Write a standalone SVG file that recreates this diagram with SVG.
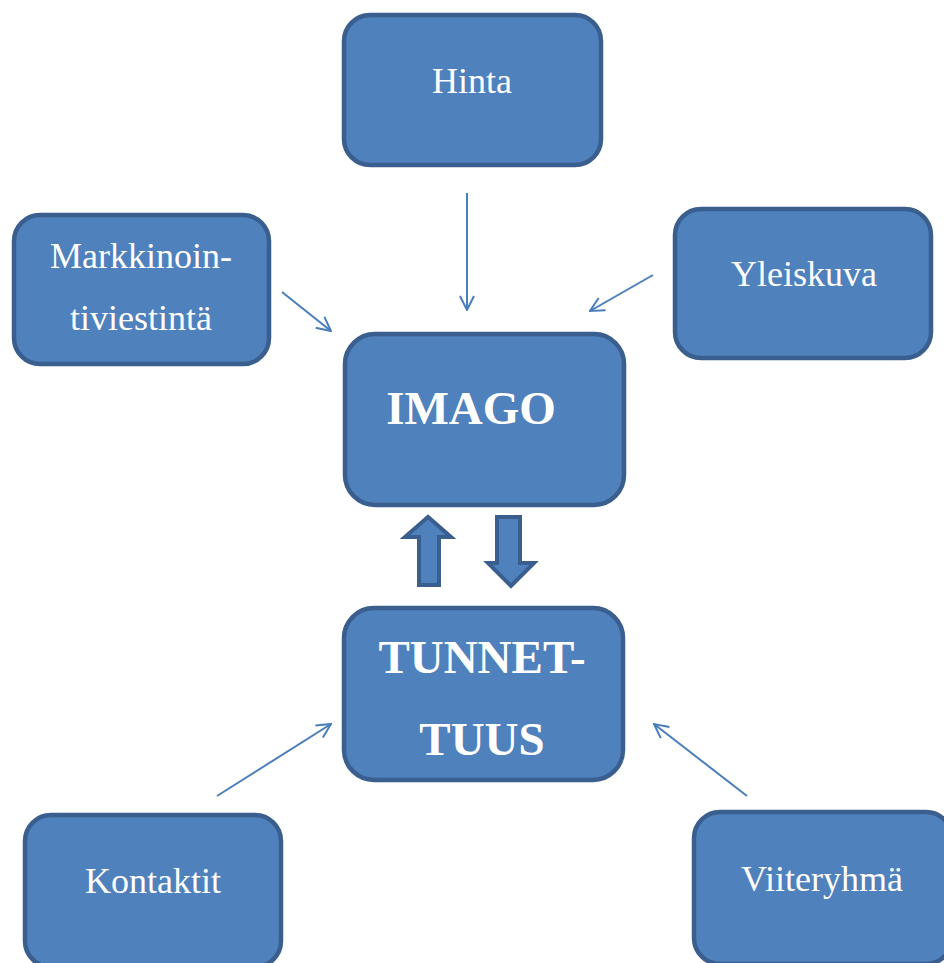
<svg xmlns="http://www.w3.org/2000/svg" width="944" height="963" viewBox="0 0 944 963">
<defs>
<style>
.box{fill:#4f81bd;stroke:#3a5f8e;stroke-width:4.5}
.t{font-family:"Liberation Serif","Times New Roman",serif;font-size:36px;fill:#ffffff;text-anchor:middle}
.b{font-family:"Liberation Serif","Times New Roman",serif;font-size:47px;font-weight:bold;fill:#ffffff;text-anchor:middle}
.c{stroke:#4a7ebb;stroke-width:2;fill:none;marker-end:url(#ah)}
.blk{fill:#4f81bd;stroke:#3a5f8e;stroke-width:4;stroke-linejoin:miter}
</style>
<marker id="ah" viewBox="0 0 16 16" refX="15" refY="8" markerWidth="16" markerHeight="16" markerUnits="userSpaceOnUse" orient="auto">
<path d="M1,1 L15,8 L1,15" fill="none" stroke="#4a7ebb" stroke-width="2"/>
</marker>
</defs>
<rect width="944" height="963" fill="#ffffff"/>
<g id="connectors">
<line class="c" x1="467" y1="193" x2="467" y2="310"/>
<line class="c" x1="282" y1="292" x2="331" y2="331"/>
<line class="c" x1="653" y1="275" x2="590" y2="311"/>
<line class="c" x1="217" y1="796" x2="331" y2="724"/>
<line class="c" x1="747" y1="796" x2="654" y2="724"/>
<polygon class="blk" points="428,517 405,537 419,537 419,585 439,585 439,537 451,537"/>
<polygon class="blk" points="497,517 520,517 520,563 534,563 511,586 488,563 497,563"/>
</g>
<g id="hinta">
<rect class="box" x="344" y="15" width="257" height="150" rx="26"/>
<text class="t" x="472" y="93">Hinta</text>
</g>
<g id="markkinointiviestinta">
<rect class="box" x="14" y="215" width="255" height="149" rx="26"/>
<text class="t" x="141" y="268">Markkinoin-</text>
<text class="t" x="141" y="330">tiviestintä</text>
</g>
<g id="yleiskuva">
<rect class="box" x="675" y="209" width="256" height="149" rx="26"/>
<text class="t" x="804" y="286">Yleiskuva</text>
</g>
<g id="imago">
<rect class="box" x="345" y="334" width="279" height="171" rx="30"/>
<text class="b" x="471" y="424">IMAGO</text>
</g>
<g id="tunnettuus">
<rect class="box" x="344" y="608" width="279" height="172" rx="30"/>
<text class="b" x="482" y="673">TUNNET-</text>
<text class="b" x="482" y="755">TUUS</text>
</g>
<g id="kontaktit">
<rect class="box" x="25" y="815" width="256" height="152" rx="26"/>
<text class="t" x="153" y="893">Kontaktit</text>
</g>
<g id="viiteryhma">
<rect class="box" x="694" y="812" width="258" height="152" rx="26"/>
<text class="t" x="822" y="891">Viiteryhmä</text>
</g>
</svg>
